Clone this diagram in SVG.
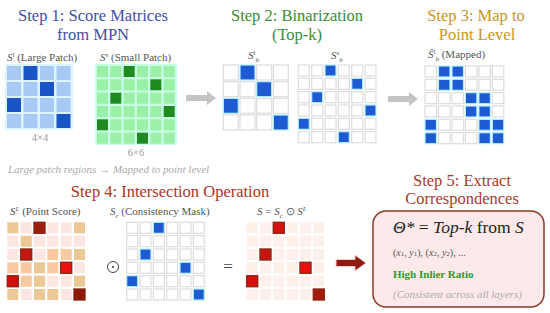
<svg xmlns="http://www.w3.org/2000/svg" width="550" height="313" viewBox="0 0 550 313">
<style>
.t{font-size:16.5px;text-anchor:middle}
.lbl{font-size:11px;fill:#555}
.dim{font-size:10.5px;fill:#999;text-anchor:middle}
.lb{fill:#a9c9f5}
.db{fill:#1a55c8}
.lg{fill:#9af0a6}
.dg{fill:#1f8a1f}
.w{fill:#fff;stroke:#dcdcdc;stroke-width:1.2}
.b{fill:#1e5ad2;stroke:#b4f0ff;stroke-width:1.2}
.tan{fill:#ebc894}
.pe{fill:#f8c8a0}
.lp{fill:#fde6e2}
.rd{stroke:#7a2a10;stroke-width:1.2}
.halo{fill:#ffd0e2}
.rs{fill:#fdf0e8}
</style>

<g id="step1" font-family="Liberation Serif, serif">
<text font-family="Liberation Serif, serif" class="t" x="93" y="21" fill="#3d4fa8">Step 1: Score Matrices</text>
<text font-family="Liberation Serif, serif" class="t" x="93" y="40" fill="#3d4fa8">from MPN</text>
<text font-family="Liberation Serif, serif" class="lbl" x="7" y="61"><tspan font-style="italic">S</tspan><tspan font-size="7" dy="-4">l</tspan><tspan dy="4"> (Large Patch)</tspan></text>
<text font-family="Liberation Serif, serif" class="lbl" x="100" y="61"><tspan font-style="italic">S</tspan><tspan font-size="7" dy="-4">s</tspan><tspan dy="4"> (Small Patch)</tspan></text>
<rect x="5" y="64" width="68" height="66" fill="#dcf4ff"/>
<g>
<rect class="lb" x="7" y="66" width="14" height="14"/><rect class="db" x="23.5" y="66" width="14" height="14"/><rect class="lb" x="40" y="66" width="14" height="14"/><rect class="lb" x="56.5" y="66" width="14" height="14"/>
<rect class="lb" x="7" y="82" width="14" height="14"/><rect class="lb" x="23.5" y="82" width="14" height="14"/><rect class="db" x="40" y="82" width="14" height="14"/><rect class="lb" x="56.5" y="82" width="14" height="14"/>
<rect class="db" x="7" y="98" width="14" height="14"/><rect class="lb" x="23.5" y="98" width="14" height="14"/><rect class="lb" x="40" y="98" width="14" height="14"/><rect class="lb" x="56.5" y="98" width="14" height="14"/>
<rect class="lb" x="7" y="114" width="14" height="14"/><rect class="lb" x="23.5" y="114" width="14" height="14"/><rect class="lb" x="40" y="114" width="14" height="14"/><rect class="db" x="56.5" y="114" width="14" height="14"/>
</g>
<text font-family="Liberation Serif, serif" class="dim" x="40" y="141">4×4</text>
<rect x="95" y="64" width="82" height="81" fill="#c8ffe4"/>
<g>
<rect class="lg" x="97" y="66" width="11" height="11"/><rect class="lg" x="110.3" y="66" width="11" height="11"/><rect class="dg" x="123.7" y="66" width="11" height="11"/><rect class="lg" x="137" y="66" width="11" height="11"/><rect class="lg" x="150.3" y="66" width="11" height="11"/><rect class="lg" x="163.7" y="66" width="11" height="11"/>
<rect class="lg" x="97" y="79.3" width="11" height="11"/><rect class="lg" x="110.3" y="79.3" width="11" height="11"/><rect class="lg" x="123.7" y="79.3" width="11" height="11"/><rect class="lg" x="137" y="79.3" width="11" height="11"/><rect class="dg" x="150.3" y="79.3" width="11" height="11"/><rect class="lg" x="163.7" y="79.3" width="11" height="11"/>
<rect class="lg" x="97" y="92.7" width="11" height="11"/><rect class="dg" x="110.3" y="92.7" width="11" height="11"/><rect class="lg" x="123.7" y="92.7" width="11" height="11"/><rect class="lg" x="137" y="92.7" width="11" height="11"/><rect class="lg" x="150.3" y="92.7" width="11" height="11"/><rect class="lg" x="163.7" y="92.7" width="11" height="11"/>
<rect class="lg" x="97" y="106" width="11" height="11"/><rect class="lg" x="110.3" y="106" width="11" height="11"/><rect class="lg" x="123.7" y="106" width="11" height="11"/><rect class="lg" x="137" y="106" width="11" height="11"/><rect class="lg" x="150.3" y="106" width="11" height="11"/><rect class="dg" x="163.7" y="106" width="11" height="11"/>
<rect class="dg" x="97" y="119.3" width="11" height="11"/><rect class="lg" x="110.3" y="119.3" width="11" height="11"/><rect class="lg" x="123.7" y="119.3" width="11" height="11"/><rect class="lg" x="137" y="119.3" width="11" height="11"/><rect class="lg" x="150.3" y="119.3" width="11" height="11"/><rect class="lg" x="163.7" y="119.3" width="11" height="11"/>
<rect class="lg" x="97" y="132.7" width="11" height="11"/><rect class="lg" x="110.3" y="132.7" width="11" height="11"/><rect class="lg" x="123.7" y="132.7" width="11" height="11"/><rect class="dg" x="137" y="132.7" width="11" height="11"/><rect class="lg" x="150.3" y="132.7" width="11" height="11"/><rect class="lg" x="163.7" y="132.7" width="11" height="11"/>
</g>
<text font-family="Liberation Serif, serif" class="dim" x="136" y="156">6×6</text>
<text font-family="Liberation Serif, serif" x="8" y="173" font-size="11" font-style="italic" fill="#aaa">Large patch regions → Mapped to point level</text>
</g>

<g id="step2">
<text font-family="Liberation Serif, serif" class="t" x="297" y="21" fill="#3a8c3a">Step 2: Binarization</text>
<text font-family="Liberation Serif, serif" class="t" x="297" y="40" fill="#3a8c3a">(Top-k)</text>
<text font-family="Liberation Serif, serif" class="lbl" x="248" y="59"><tspan font-style="italic">S</tspan><tspan font-size="7" dy="-4">l</tspan><tspan font-size="7" font-style="italic" dy="7">b</tspan></text>
<text font-family="Liberation Serif, serif" class="lbl" x="331" y="59"><tspan font-style="italic">S</tspan><tspan font-size="7" dy="-4">s</tspan><tspan font-size="7" font-style="italic" dy="7">b</tspan></text>
<g>
<rect class="w" x="223.3" y="65" width="15" height="15"/><rect class="b" x="240" y="65" width="15" height="15"/><rect class="w" x="256.7" y="65" width="15" height="15"/><rect class="w" x="273.3" y="65" width="15" height="15"/>
<rect class="w" x="223.3" y="81.7" width="15" height="15"/><rect class="w" x="240" y="81.7" width="15" height="15"/><rect class="b" x="256.7" y="81.7" width="15" height="15"/><rect class="w" x="273.3" y="81.7" width="15" height="15"/>
<rect class="b" x="223.3" y="98.3" width="15" height="15"/><rect class="w" x="240" y="98.3" width="15" height="15"/><rect class="w" x="256.7" y="98.3" width="15" height="15"/><rect class="w" x="273.3" y="98.3" width="15" height="15"/>
<rect class="w" x="223.3" y="115" width="15" height="15"/><rect class="w" x="240" y="115" width="15" height="15"/><rect class="w" x="256.7" y="115" width="15" height="15"/><rect class="b" x="273.3" y="115" width="15" height="15"/>
</g>
<g>
<rect class="w" x="298.3" y="65" width="11" height="11"/><rect class="w" x="311.7" y="65" width="11" height="11"/><rect class="b" x="325" y="65" width="11" height="11"/><rect class="w" x="338.3" y="65" width="11" height="11"/><rect class="w" x="351.7" y="65" width="11" height="11"/><rect class="w" x="365" y="65" width="11" height="11"/>
<rect class="w" x="298.3" y="78.3" width="11" height="11"/><rect class="w" x="311.7" y="78.3" width="11" height="11"/><rect class="w" x="325" y="78.3" width="11" height="11"/><rect class="w" x="338.3" y="78.3" width="11" height="11"/><rect class="b" x="351.7" y="78.3" width="11" height="11"/><rect class="w" x="365" y="78.3" width="11" height="11"/>
<rect class="w" x="298.3" y="91.7" width="11" height="11"/><rect class="b" x="311.7" y="91.7" width="11" height="11"/><rect class="w" x="325" y="91.7" width="11" height="11"/><rect class="w" x="338.3" y="91.7" width="11" height="11"/><rect class="w" x="351.7" y="91.7" width="11" height="11"/><rect class="w" x="365" y="91.7" width="11" height="11"/>
<rect class="w" x="298.3" y="105" width="11" height="11"/><rect class="w" x="311.7" y="105" width="11" height="11"/><rect class="w" x="325" y="105" width="11" height="11"/><rect class="w" x="338.3" y="105" width="11" height="11"/><rect class="w" x="351.7" y="105" width="11" height="11"/><rect class="b" x="365" y="105" width="11" height="11"/>
<rect class="b" x="298.3" y="118.3" width="11" height="11"/><rect class="w" x="311.7" y="118.3" width="11" height="11"/><rect class="w" x="325" y="118.3" width="11" height="11"/><rect class="w" x="338.3" y="118.3" width="11" height="11"/><rect class="w" x="351.7" y="118.3" width="11" height="11"/><rect class="w" x="365" y="118.3" width="11" height="11"/>
<rect class="w" x="298.3" y="131.7" width="11" height="11"/><rect class="w" x="311.7" y="131.7" width="11" height="11"/><rect class="w" x="325" y="131.7" width="11" height="11"/><rect class="b" x="338.3" y="131.7" width="11" height="11"/><rect class="w" x="351.7" y="131.7" width="11" height="11"/><rect class="w" x="365" y="131.7" width="11" height="11"/>
</g>
</g>

<g id="step3">
<text font-family="Liberation Serif, serif" class="t" x="476" y="21" fill="#c8961e">Step 3: Map to</text>
<text font-family="Liberation Serif, serif" class="t" x="477" y="40" fill="#c8961e">Point Level</text>
<text font-family="Liberation Serif, serif" class="lbl" x="428" y="58"><tspan font-style="italic">Ŝ</tspan><tspan font-size="7" dy="-4">l</tspan><tspan font-size="7" font-style="italic" dy="7">b</tspan><tspan dy="-3"> (Mapped)</tspan></text>
<g>
<rect class="w" x="425" y="66" width="11.5" height="11"/><rect class="b" x="438.5" y="66" width="11.5" height="11"/><rect class="b" x="452" y="66" width="11.5" height="11"/><rect class="w" x="465.4" y="66" width="11.5" height="11"/><rect class="w" x="478.9" y="66" width="11.5" height="11"/><rect class="w" x="492.3" y="66" width="11.5" height="11"/>
<rect class="w" x="425" y="79.3" width="11.5" height="11"/><rect class="b" x="438.5" y="79.3" width="11.5" height="11"/><rect class="b" x="452" y="79.3" width="11.5" height="11"/><rect class="w" x="465.4" y="79.3" width="11.5" height="11"/><rect class="w" x="478.9" y="79.3" width="11.5" height="11"/><rect class="w" x="492.3" y="79.3" width="11.5" height="11"/>
<rect class="w" x="425" y="92.7" width="11.5" height="11"/><rect class="w" x="438.5" y="92.7" width="11.5" height="11"/><rect class="w" x="452" y="92.7" width="11.5" height="11"/><rect class="b" x="465.4" y="92.7" width="11.5" height="11"/><rect class="b" x="478.9" y="92.7" width="11.5" height="11"/><rect class="w" x="492.3" y="92.7" width="11.5" height="11"/>
<rect class="w" x="425" y="106" width="11.5" height="11"/><rect class="w" x="438.5" y="106" width="11.5" height="11"/><rect class="w" x="452" y="106" width="11.5" height="11"/><rect class="b" x="465.4" y="106" width="11.5" height="11"/><rect class="b" x="478.9" y="106" width="11.5" height="11"/><rect class="w" x="492.3" y="106" width="11.5" height="11"/>
<rect class="b" x="425" y="119.3" width="11.5" height="11"/><rect class="w" x="438.5" y="119.3" width="11.5" height="11"/><rect class="w" x="452" y="119.3" width="11.5" height="11"/><rect class="w" x="465.4" y="119.3" width="11.5" height="11"/><rect class="b" x="478.9" y="119.3" width="11.5" height="11"/><rect class="b" x="492.3" y="119.3" width="11.5" height="11"/>
<rect class="b" x="425" y="132.7" width="11.5" height="11"/><rect class="w" x="438.5" y="132.7" width="11.5" height="11"/><rect class="w" x="452" y="132.7" width="11.5" height="11"/><rect class="w" x="465.4" y="132.7" width="11.5" height="11"/><rect class="b" x="478.9" y="132.7" width="11.5" height="11"/><rect class="b" x="492.3" y="132.7" width="11.5" height="11"/>
</g>
</g>

<g id="step4">
<text font-family="Liberation Serif, serif" class="t" x="170" y="197" fill="#a83428">Step 4: Intersection Operation</text>
<text font-family="Liberation Serif, serif" class="lbl" x="10" y="215"><tspan font-style="italic">S</tspan><tspan font-size="7" font-style="italic" dy="-4">L</tspan><tspan dy="4"> (Point Score)</tspan></text>
<text font-family="Liberation Serif, serif" class="lbl" x="110" y="215"><tspan font-style="italic">S</tspan><tspan font-size="7" font-style="italic" dy="3">c</tspan><tspan dy="-3"> (Consistency Mask)</tspan></text>
<text font-family="Liberation Serif, serif" class="lbl" x="257" y="215"><tspan font-style="italic">S</tspan> = <tspan font-style="italic">S</tspan><tspan font-size="7" font-style="italic" dy="3">c</tspan><tspan dy="-3"> ⊙ </tspan><tspan font-style="italic">S</tspan><tspan font-size="7" font-style="italic" dy="-4">L</tspan></text>
<g>
<rect class="tan" x="7.3" y="222.3" width="11" height="11"/><rect class="lp" x="20.7" y="222.3" width="11" height="11"/><rect class="halo" x="33" y="221.3" width="13" height="13"/><rect fill="#a01c0c" class="rd" x="34" y="222.3" width="11" height="11"/><rect class="lp" x="47.3" y="222.3" width="11" height="11"/><rect class="lp" x="60.7" y="222.3" width="11" height="11"/><rect class="tan" x="74" y="222.3" width="11" height="11"/>
<rect class="lp" x="7.3" y="235.7" width="11" height="11"/><rect class="tan" x="20.7" y="235.7" width="11" height="11"/><rect class="lp" x="34" y="235.7" width="11" height="11"/><rect class="lp" x="47.3" y="235.7" width="11" height="11"/><rect class="lp" x="60.7" y="235.7" width="11" height="11"/><rect class="lp" x="74" y="235.7" width="11" height="11"/>
<rect class="lp" x="7.3" y="249" width="11" height="11"/><rect class="halo" x="19.7" y="248" width="13" height="13"/><rect fill="#c81410" class="rd" x="20.7" y="249" width="11" height="11"/><rect class="lp" x="34" y="249" width="11" height="11"/><rect class="pe" x="47.3" y="249" width="11" height="11"/><rect class="pe" x="60.7" y="249" width="11" height="11"/><rect class="tan" x="74" y="249" width="11" height="11"/>
<rect class="pe" x="7.3" y="262.3" width="11" height="11"/><rect class="pe" x="20.7" y="262.3" width="11" height="11"/><rect class="tan" x="34" y="262.3" width="11" height="11"/><rect class="pe" x="47.3" y="262.3" width="11" height="11"/><rect class="halo" x="59.7" y="261.3" width="13" height="13"/><rect fill="#f01010" class="rd" x="60.7" y="262.3" width="11" height="11"/><rect class="lp" x="74" y="262.3" width="11" height="11"/>
<rect class="halo" x="6.3" y="274.7" width="13" height="13"/><rect fill="#d01010" class="rd" x="7.3" y="275.7" width="11" height="11"/><rect class="pe" x="20.7" y="275.7" width="11" height="11"/><rect class="tan" x="34" y="275.7" width="11" height="11"/><rect class="lp" x="47.3" y="275.7" width="11" height="11"/><rect class="lp" x="60.7" y="275.7" width="11" height="11"/><rect class="tan" x="74" y="275.7" width="11" height="11"/>
<rect class="tan" x="7.3" y="289" width="11" height="11"/><rect class="lp" x="20.7" y="289" width="11" height="11"/><rect class="tan" x="34" y="289" width="11" height="11"/><rect class="tan" x="47.3" y="289" width="11" height="11"/><rect class="lp" x="60.7" y="289" width="11" height="11"/><rect class="halo" x="73" y="288" width="13" height="13"/><rect fill="#901808" class="rd" x="74" y="289" width="11" height="11"/>
</g>
<circle cx="113" cy="267" r="5.5" fill="none" stroke="#444" stroke-width="1"/>
<circle cx="113" cy="267" r="1.1" fill="#444"/>
<g>
<rect class="w" x="126.7" y="222.3" width="11" height="11"/><rect class="w" x="140" y="222.3" width="11" height="11"/><rect class="b" x="153.3" y="222.3" width="11" height="11"/><rect class="w" x="166.7" y="222.3" width="11" height="11"/><rect class="w" x="180" y="222.3" width="11" height="11"/><rect class="w" x="193.3" y="222.3" width="11" height="11"/>
<rect class="w" x="126.7" y="235.7" width="11" height="11"/><rect class="w" x="140" y="235.7" width="11" height="11"/><rect class="w" x="153.3" y="235.7" width="11" height="11"/><rect class="w" x="166.7" y="235.7" width="11" height="11"/><rect class="w" x="180" y="235.7" width="11" height="11"/><rect class="w" x="193.3" y="235.7" width="11" height="11"/>
<rect class="w" x="126.7" y="249" width="11" height="11"/><rect class="b" x="140" y="249" width="11" height="11"/><rect class="w" x="153.3" y="249" width="11" height="11"/><rect class="w" x="166.7" y="249" width="11" height="11"/><rect class="w" x="180" y="249" width="11" height="11"/><rect class="w" x="193.3" y="249" width="11" height="11"/>
<rect class="w" x="126.7" y="262.3" width="11" height="11"/><rect class="w" x="140" y="262.3" width="11" height="11"/><rect class="w" x="153.3" y="262.3" width="11" height="11"/><rect class="w" x="166.7" y="262.3" width="11" height="11"/><rect class="b" x="180" y="262.3" width="11" height="11"/><rect class="w" x="193.3" y="262.3" width="11" height="11"/>
<rect class="b" x="126.7" y="275.7" width="11" height="11"/><rect class="w" x="140" y="275.7" width="11" height="11"/><rect class="w" x="153.3" y="275.7" width="11" height="11"/><rect class="w" x="166.7" y="275.7" width="11" height="11"/><rect class="w" x="180" y="275.7" width="11" height="11"/><rect class="w" x="193.3" y="275.7" width="11" height="11"/>
<rect class="w" x="126.7" y="289" width="11" height="11"/><rect class="w" x="140" y="289" width="11" height="11"/><rect class="w" x="153.3" y="289" width="11" height="11"/><rect class="w" x="166.7" y="289" width="11" height="11"/><rect class="w" x="180" y="289" width="11" height="11"/><rect class="b" x="193.3" y="289" width="11" height="11"/>
</g>
<text font-family="Liberation Serif, serif" x="228" y="272" font-size="17" text-anchor="middle" fill="#444">=</text>
<g>
<rect class="rs" x="246.7" y="222.3" width="11" height="11"/><rect class="rs" x="260" y="222.3" width="11" height="11"/><rect class="halo" x="272.3" y="221.3" width="13" height="13"/><rect fill="#d81010" class="rd" x="273.3" y="222.3" width="11" height="11"/><rect class="rs" x="286.7" y="222.3" width="11" height="11"/><rect class="rs" x="300" y="222.3" width="11" height="11"/><rect class="rs" x="313.3" y="222.3" width="11" height="11"/>
<rect class="rs" x="246.7" y="235.7" width="11" height="11"/><rect class="rs" x="260" y="235.7" width="11" height="11"/><rect class="rs" x="273.3" y="235.7" width="11" height="11"/><rect class="rs" x="286.7" y="235.7" width="11" height="11"/><rect class="rs" x="300" y="235.7" width="11" height="11"/><rect class="rs" x="313.3" y="235.7" width="11" height="11"/>
<rect class="rs" x="246.7" y="249" width="11" height="11"/><rect class="halo" x="259" y="248" width="13" height="13"/><rect fill="#c81410" class="rd" x="260" y="249" width="11" height="11"/><rect class="rs" x="273.3" y="249" width="11" height="11"/><rect class="rs" x="286.7" y="249" width="11" height="11"/><rect class="rs" x="300" y="249" width="11" height="11"/><rect class="rs" x="313.3" y="249" width="11" height="11"/>
<rect class="rs" x="246.7" y="262.3" width="11" height="11"/><rect class="rs" x="260" y="262.3" width="11" height="11"/><rect class="rs" x="273.3" y="262.3" width="11" height="11"/><rect class="rs" x="286.7" y="262.3" width="11" height="11"/><rect class="halo" x="299" y="261.3" width="13" height="13"/><rect fill="#e81010" class="rd" x="300" y="262.3" width="11" height="11"/><rect class="rs" x="313.3" y="262.3" width="11" height="11"/>
<rect class="halo" x="245.7" y="274.7" width="13" height="13"/><rect fill="#d81010" class="rd" x="246.7" y="275.7" width="11" height="11"/><rect class="rs" x="260" y="275.7" width="11" height="11"/><rect class="rs" x="273.3" y="275.7" width="11" height="11"/><rect class="rs" x="286.7" y="275.7" width="11" height="11"/><rect class="rs" x="300" y="275.7" width="11" height="11"/><rect class="rs" x="313.3" y="275.7" width="11" height="11"/>
<rect class="rs" x="246.7" y="289" width="11" height="11"/><rect class="rs" x="260" y="289" width="11" height="11"/><rect class="rs" x="273.3" y="289" width="11" height="11"/><rect class="rs" x="286.7" y="289" width="11" height="11"/><rect class="rs" x="300" y="289" width="11" height="11"/><rect class="halo" x="312.3" y="288" width="13" height="13"/><rect fill="#a81a0c" class="rd" x="313.3" y="289" width="11" height="11"/>
</g>
</g>

<g id="step5">
<text font-family="Liberation Serif, serif" class="t" x="462" y="186" fill="#a83a2a">Step 5: Extract</text>
<text font-family="Liberation Serif, serif" class="t" x="462" y="204" fill="#a83a2a">Correspondences</text>
<rect x="373" y="211" width="171" height="96" rx="13" fill="#fde9ea" stroke="#8a3a25" stroke-width="1.5"/>
<text font-family="Liberation Serif, serif" x="393" y="233" font-size="17.5" fill="#222"><tspan font-style="italic">Θ*</tspan> = <tspan font-style="italic">Top-k</tspan> from <tspan font-style="italic">S</tspan></text>
<text font-family="Liberation Serif, serif" x="393" y="256" font-size="10" fill="#555">(<tspan font-style="italic">x</tspan><tspan font-size="7">1</tspan>, <tspan font-style="italic">y</tspan><tspan font-size="7">1</tspan>), (<tspan font-style="italic">x</tspan><tspan font-size="7">2</tspan>, <tspan font-style="italic">y</tspan><tspan font-size="7">2</tspan>), ...</text>
<text font-family="Liberation Serif, serif" x="393" y="278" font-size="11" font-weight="bold" fill="#2e9a2e">High Inlier Ratio</text>
<text font-family="Liberation Serif, serif" x="393" y="298" font-size="11" font-style="italic" fill="#aaa">(Consistent across all layers)</text>
</g>

<g id="connectors">
<polygon points="186,95 207,95 207,91 216,98 207,105 207,101 186,101" fill="#c4c4c4"/>
<polygon points="388,96 409,96 409,92 418,99 409,106 409,102 388,102" fill="#c4c4c4"/>
<polygon points="336,259.5 355,259.5 355,255 366,263 355,271 355,266.5 336,266.5" fill="#8e1c10" stroke="#ffc8d8" stroke-width="1"/>
</g>
</svg>
